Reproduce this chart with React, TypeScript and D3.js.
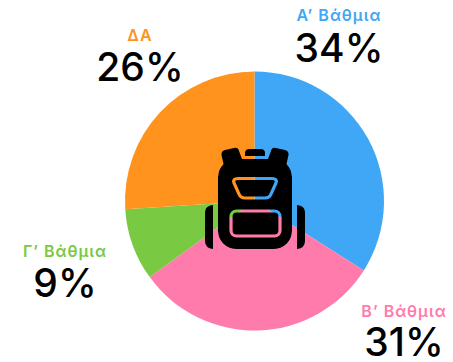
import React from "react";
import * as d3 from "d3";

const categories = ["Α’ Βάθμια", "Β’ Βάθμια", "Γ’ Βάθμια", "ΔΑ"];
const values = [34, 31, 9, 26];
const colors = ["#3fa7f5", "#ff7bac", "#7ac943", "#ff931e"];
const labelX = [339, 404, 65, 140];
const labelY = [21, 317, 257, 41];
const valueY = [62, 356, 297, 81];

const W = 453, H = 362, cx = 254.5, cy = 201, R = 129.5;

export default function App() {
  const pie = d3.pie<number>().sort(null).value((d) => d);
  const arc = d3.arc<d3.PieArcDatum<number>>().innerRadius(0).outerRadius(R);
  const arcs = pie(values);
  const font = "Inter, 'Noto Sans', sans-serif";
  return (
    <svg width={W} height={H} viewBox={`0 0 ${W} ${H}`} style={{ position: "absolute", left: 0, top: 0, display: "block" }}>
      <defs>
        <mask id="bag" maskUnits="userSpaceOnUse" x="0" y="0" width={W} height={H}>
          <rect x="218" y="159" width="74" height="90" rx="18" fill="#fff" />
          <path d="M238 178.5 L272 178.5 Q277.5 178.5 276 183 L271 194 Q269.5 198 265 198 L245 198 Q240.5 198 239 194 L234 183 Q232.5 178.5 238 178.5Z" fill="none" stroke="#000" strokeWidth="3.2" />
          <rect x="231" y="211" width="49" height="25" rx="5.5" fill="none" stroke="#000" strokeWidth="3.2" />
        </mask>
      </defs>
      <g transform={`translate(${cx},${cy})`}>
        {arcs.map((a, i) => <path key={i} d={arc(a) as string} fill={colors[i]} />)}
      </g>
      <g fill="#000">
        <rect x="218" y="159" width="74" height="90" rx="18" mask="url(#bag)" />
        <path d="M221.5 155 Q221 151 225 150 L234 148 Q238 147 239 151 L242 159 Q232 160 226 166 Q224 167 223.5 164Z" />
        <path d="M288.5 155 Q289 151 285 150 L276 148 Q272 147 271 151 L268 159 Q278 160 284 166 Q286 167 286.5 164Z" />
        <path d="M245 156 L245 152 Q246 149 249 149 L261 149 Q264 149 265 152 L265 156Z" />
        <path d="M213 205 L213 249 Q205 248 205 241 L205 212 Q205 206 213 205Z" />
        <path d="M297 205 L297 249 Q305 248 305 241 L305 212 Q305 206 297 205Z" />
      </g>
      {categories.map((c, i) => (
        <g key={c} textAnchor="middle" fontFamily={font}>
          <text x={labelX[i]} y={labelY[i]} fontSize="16" fontWeight="600" fill={colors[i]} letterSpacing="1">{c}</text>
          <text x={labelX[i]} y={valueY[i]} fontSize="39" fontWeight="500" fill="#000">{values[i]}%</text>
        </g>
      ))}
    </svg>
  );
}
